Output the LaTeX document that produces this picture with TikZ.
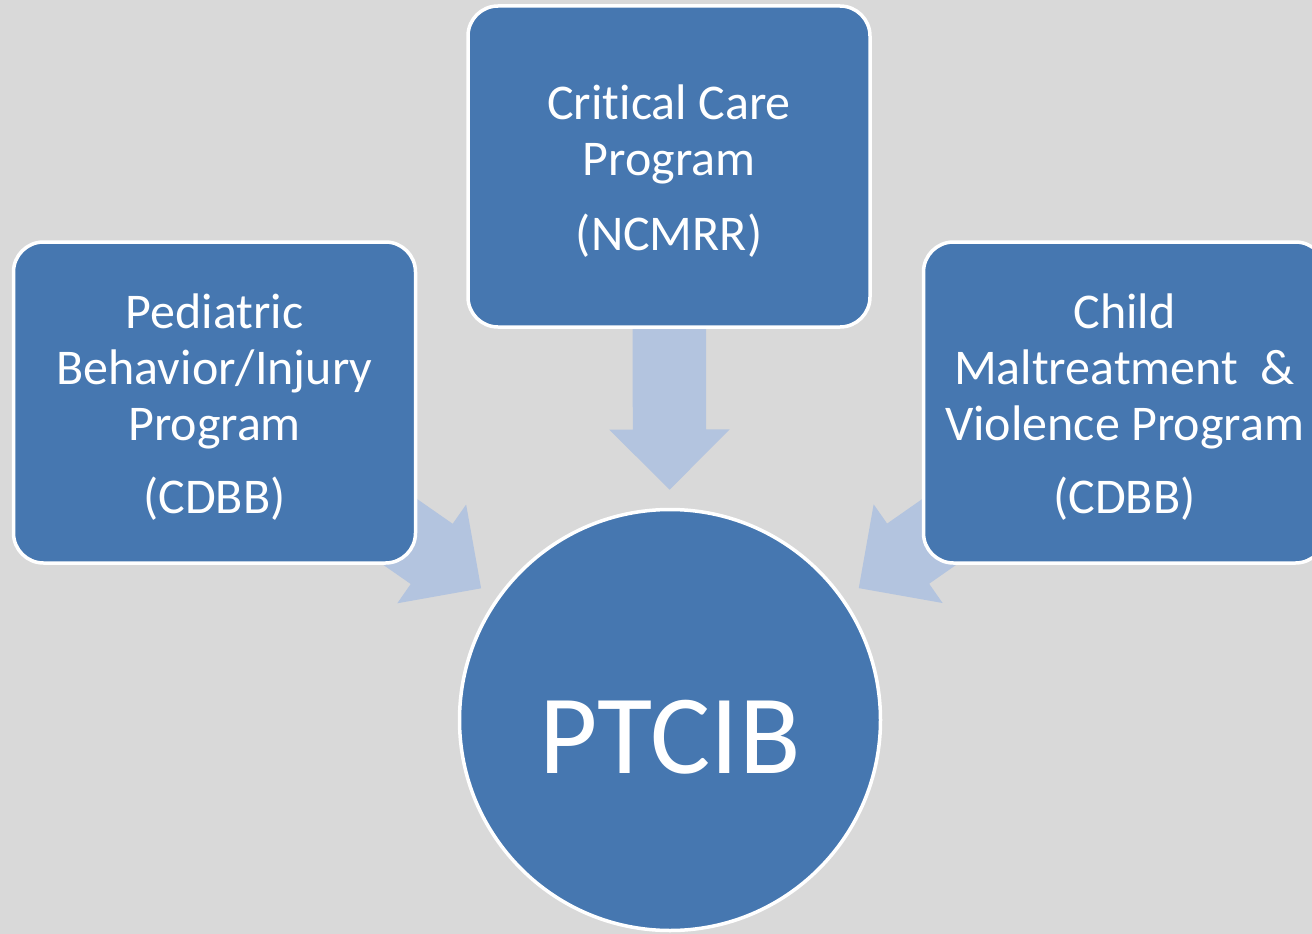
\documentclass[tikz,border=0pt]{standalone}
\usepackage{fontspec}
\setmainfont{Carlito}[Ligatures=NoCommon]
\usetikzlibrary{shapes.arrows,calc}
\pgfdeclarelayer{bglayer}
\pgfdeclarelayer{arrlayer}
\pgfsetlayers{bglayer,arrlayer,main}
\definecolor{bgc}{HTML}{D9D9D9}
\definecolor{boxc}{HTML}{4677B0}
\definecolor{arrc}{HTML}{B3C4DF}
\newcommand\topstrut{\rule{0pt}{43pt}}
\begin{document}
\begin{tikzpicture}[x=1pt,y=-1pt,
  prog/.style={rectangle, rounded corners=30pt, fill=boxc, draw=white, line width=3.5pt,
    text=white, align=center, font=\fontsize{50}{56}\selectfont, inner sep=0pt,
    minimum width=402pt, minimum height=321pt},
  hub/.style={circle, fill=boxc, draw=white, line width=3.5pt, text=white,
    font=\fontsize{113}{120}\selectfont, minimum size=421pt, inner sep=0pt,
    text height=106pt, text depth=0pt},
  flow/.style={single arrow, fill=arrc, draw=none, minimum height=180pt,
    single arrow head extend=23.5pt, single arrow tip angle=90,
    single arrow head indent=0pt, inner xsep=0pt, inner ysep=36.5pt,
    text height=0pt, text depth=0pt, minimum width=1pt}]
\begin{pgfonlayer}{bglayer}
  \fill[bgc] (0,0) rectangle (1312,934);
\end{pgfonlayer}
\useasboundingbox (0,0) rectangle (1312,934);

\node[prog] (tbox) at (669,166.5) {\topstrut Crit\kern0pt ical Care\\Program\\[19pt](NCMRR)};
\node[prog] (lbox) at (214.5,402.5) {\topstrut Pediatric\\Behavior/Injury\\Program\\[17pt](CDBB)};
\node[prog] (rbox) at (1124.5,402.5) {\topstrut Child\\Maltreatment\ \ \&\\Violence Program\\[17pt](CDBB)};
\node[hub] (ptcib) at (670,720) {PTCIB};

\coordinate (ttip) at ($(ptcib.center)!230pt!(tbox.center)$);
\coordinate (ltip) at ($(ptcib.center)!230pt!(lbox.center)$);
\coordinate (rtip) at ($(ptcib.center)!230pt!(rbox.center)$);

\begin{pgfonlayer}{arrlayer}
  \path (ttip) -- (ptcib.center) node[flow, pos=0, sloped, allow upside down, anchor=tip] (atop) {};
  \path (ltip) -- (ptcib.center) node[flow, pos=0, sloped, allow upside down, anchor=tip] (aleft) {};
  \path (rtip) -- (ptcib.center) node[flow, pos=0, sloped, allow upside down, anchor=tip] (aright) {};
\end{pgfonlayer}
\end{tikzpicture}
\end{document}
